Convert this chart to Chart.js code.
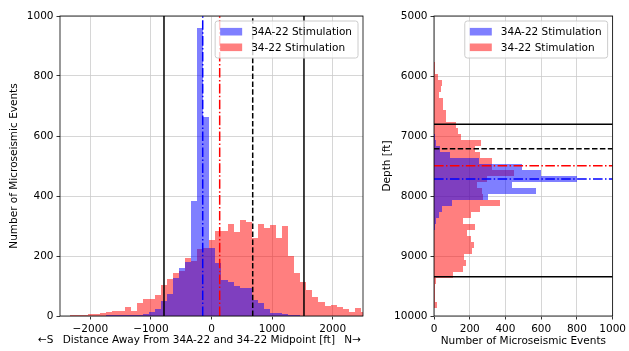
<!DOCTYPE html>
<html>
<head>
<meta charset="utf-8">
<script src="https://cdn.jsdelivr.net/npm/chart.js@4.4.1/dist/chart.umd.min.js"></script>
<style>
  html, body { margin: 0; padding: 0; background: #fff; }
  #wrap { position: relative; width: 629px; height: 351px; }
  .panel { position: absolute; top: 0; }
  #dist-panel { left: 0; }
  #depth-panel { left: 372px; }
</style>
</head>
<body>
<div id="wrap">
  <div class="panel" id="dist-panel"><canvas id="dist-hist" width="372" height="351"></canvas></div>
  <div class="panel" id="depth-panel"><canvas id="depth-hist" width="257" height="351"></canvas></div>
</div>
<script>
// distance histogram (bin centres, ft)
const distBins = [-2485, -2385, -2285, -2185, -2085, -1985, -1885, -1785, -1685, -1585,
  -1485, -1385, -1285, -1185, -1085, -985, -885, -785, -685, -585,
  -485, -385, -285, -185, -85, 15, 115, 215, 315, 415,
  515, 615, 715, 815, 915, 1015, 1115, 1215, 1315, 1415,
  1515, 1615, 1715, 1815, 1915, 2015, 2115, 2215, 2315, 2415, 2515];
const distCounts34A = [0, 0, 0, 0, 0, 1, 1, 1, 2, 2,
  2, 2, 3, 5, 8, 14, 24, 50, 74, 126,
  160, 181, 383, 959, 664, 226, 176, 120, 112, 100,
  95, 95, 53, 44, 24, 10, 9, 7, 3, 2,
  1, 0, 0, 0, 0, 0, 0, 0, 0, 0, 0];
const distCounts34 = [1, 1, 2, 3, 5, 6, 8, 9, 14, 18,
  18, 29, 18, 45, 56, 56, 71, 105, 122, 142,
  150, 194, 184, 224, 228, 253, 285, 285, 307, 281,
  320, 314, 259, 307, 292, 302, 259, 300, 200, 145,
  115, 88, 62, 48, 33, 37, 30, 24, 15, 26, 15];

// depth histogram (bin centres, ft)
const depthBins = [5720, 5820, 5920, 6020, 6120, 6220, 6320, 6420, 6520, 6620,
  6720, 6820, 6920, 7020, 7120, 7220, 7320, 7420, 7520, 7620,
  7720, 7820, 7920, 8020, 8120, 8220, 8320, 8420, 8520, 8620,
  8720, 8820, 8920, 9020, 9120, 9220, 9320, 9420, 9520, 9620,
  9720, 9820, 9920];
const depthCounts34A = [0, 0, 0, 0, 0, 0, 0, 0, 0, 0,
  0, 0, 0, 3, 13, 31, 90, 250, 492, 597,
  800, 437, 570, 305, 98, 45, 26, 13, 4, 2,
  0, 0, 0, 0, 0, 0, 0, 0, 0, 0,
  0, 0, 0];
const depthCounts34 = [0, 5, 8, 22, 44, 37, 30, 50, 50, 68,
  68, 125, 135, 152, 263, 230, 256, 322, 326, 446,
  297, 243, 268, 272, 369, 258, 206, 165, 227, 186,
  205, 222, 213, 170, 179, 162, 105, 10, 8, 6,
  6, 14, 2];

// tick values
const distTicks = [-2000, -1000, 0, 1000, 2000];
const distCountTicks = [0, 200, 400, 600, 800, 1000];
const depthTicks = [5000, 6000, 7000, 8000, 9000, 10000];
const depthCountTicks = [0, 200, 400, 600, 800, 1000];

// reference lines
const distBounds = [-784, 1526];
const distMidline = 680;
const distMean34A = -145;
const distMean34 = 135;
const depthBounds = [6805, 9344];
const depthMidline = 7211;
const depthMean34 = 7495;
const depthMean34A = 7717;

const seriesLabels = ['34A-22 Stimulation', '34-22 Stimulation'];
const distLabelParts = ['\u2190S', 'Distance Away From 34A-22 and 34-22 Midpoint [ft]', 'N\u2192'];

const FONT = { family: '"DejaVu Sans"', size: 10.5 };
const GRID = '#cbcbcb';
const BLUE = 'rgba(0,0,255,0.5)';
const RED = 'rgba(255,0,0,0.5)';
const DASHED = [5.5, 2.4];
const DASHDOT = [9.6, 2.4, 1.5, 2.4];

Chart.defaults.color = '#000';
Chart.defaults.font.family = FONT.family;

const fmtTick = v => (v < 0 ? '\u2212' + Math.abs(v) : String(v));

// snap bar edges to whole pixels so neighbouring translucent bars do not leave seams
const snapBars = {
  id: 'snapBars',
  afterDatasetsUpdate(chart) {
    chart.getSortedVisibleDatasetMetas().forEach(meta => {
      meta.data.forEach(el => {
        if (el.horizontal) {
          const t = Math.round(el.y - el.height / 2);
          const b = Math.round(el.y + el.height / 2);
          el.y = (t + b) / 2;
          el.height = b - t;
          el.x = Math.round(el.x);
          el.base = Math.round(el.base);
        } else {
          const l = Math.round(el.x - el.width / 2);
          const r = Math.round(el.x + el.width / 2);
          el.x = (l + r) / 2;
          el.width = r - l;
          el.y = Math.round(el.y);
          el.base = Math.round(el.base);
        }
      });
    });
  }
};

const refLines = {
  id: 'refLines',
  afterDatasetsDraw(chart, args, opts) {
    const { ctx, chartArea: a } = chart;
    ctx.save();
    ctx.beginPath();
    ctx.rect(a.left, a.top, a.width, a.height);
    ctx.clip();
    opts.lines.forEach(ln => {
      ctx.beginPath();
      ctx.strokeStyle = ln.color;
      ctx.lineWidth = 1.5;
      ctx.setLineDash(ln.dash);
      if (opts.axis === 'x') {
        const p = chart.scales.x.getPixelForValue(ln.value);
        ctx.moveTo(p, a.bottom);
        ctx.lineTo(p, a.top);
      } else {
        const p = chart.scales.y.getPixelForValue(ln.value);
        ctx.moveTo(a.left, p);
        ctx.lineTo(a.right, p);
      }
      ctx.stroke();
    });
    ctx.restore();
  }
};

// x label with the compass arrows pushed out to both ends
const spreadLabel = {
  id: 'spreadLabel',
  afterDraw(chart, args, opts) {
    if (!opts.parts) return;
    const { ctx } = chart;
    ctx.save();
    ctx.font = FONT.size + 'px ' + FONT.family;
    ctx.fillStyle = '#000';
    ctx.textBaseline = 'middle';
    const [a, b, c] = opts.parts;
    const wa = ctx.measureText(a).width;
    const wb = ctx.measureText(b).width;
    const wc = ctx.measureText(c).width;
    const gap = (opts.right - opts.left - wa - wb - wc) / 2;
    ctx.textAlign = 'left';
    ctx.fillText(a, opts.left, opts.y);
    ctx.fillText(b, opts.left + wa + gap, opts.y);
    ctx.fillText(c, opts.left + wa + gap + wb + gap, opts.y);
    ctx.restore();
  }
};

// axes frame + matplotlib-like legend box
const frameLegend = {
  id: 'frameLegend',
  afterDraw(chart) {
    const { ctx, chartArea: a } = chart;
    ctx.save();
    ctx.strokeStyle = '#000';
    ctx.lineWidth = 0.8;
    ctx.strokeRect(a.left, a.top, a.width, a.height);

    ctx.font = FONT.size + 'px ' + FONT.family;
    const sets = chart.data.datasets;
    const textW = Math.max(...sets.map(d => ctx.measureText(d.label).width));
    const w = 5 + 22 + 9 + textW + 6;
    const h = 37;
    const x0 = a.right - 5 - w;
    const y0 = a.top + 5;
    const r = 2.5;
    ctx.beginPath();
    ctx.moveTo(x0 + r, y0);
    ctx.lineTo(x0 + w - r, y0);
    ctx.arcTo(x0 + w, y0, x0 + w, y0 + r, r);
    ctx.lineTo(x0 + w, y0 + h - r);
    ctx.arcTo(x0 + w, y0 + h, x0 + w - r, y0 + h, r);
    ctx.lineTo(x0 + r, y0 + h);
    ctx.arcTo(x0, y0 + h, x0, y0 + h - r, r);
    ctx.lineTo(x0, y0 + r);
    ctx.arcTo(x0, y0, x0 + r, y0, r);
    ctx.closePath();
    ctx.fillStyle = 'rgba(255,255,255,0.8)';
    ctx.fill();
    ctx.strokeStyle = '#cccccc';
    ctx.lineWidth = 1;
    ctx.stroke();

    ctx.textBaseline = 'middle';
    ctx.textAlign = 'left';
    sets.forEach((d, i) => {
      const cy = y0 + 10.7 + i * 15.6;
      ctx.fillStyle = d.backgroundColor;
      ctx.fillRect(x0 + 5, cy - 3.8, 22, 7.6);
      ctx.fillStyle = '#000';
      ctx.fillText(d.label, x0 + 36, cy + 0.5);
    });
    ctx.restore();
  }
};

function axisStyle(extra) {
  return Object.assign({
    type: 'linear',
    offset: false,
    grid: { offset: false, color: GRID, lineWidth: 0.8, tickColor: '#000', tickLength: 3.5, tickWidth: 0.8 },
    border: { display: false },
  }, extra);
}

function tickStyle() {
  return { padding: 3, maxRotation: 0, autoSkip: false, font: FONT, color: '#000', callback: fmtTick };
}

const fixTicks = values => scale => { scale.ticks = values.map(v => ({ value: v })); };

const distPoints = vals => vals.map((v, i) => ({ x: distBins[i], y: v }));
const depthPoints = vals => vals.map((v, i) => ({ y: depthBins[i], x: v }));

new Chart(document.getElementById('dist-hist'), {
  type: 'bar',
  data: {
    datasets: [
      { label: seriesLabels[0], data: distPoints(distCounts34A), backgroundColor: BLUE },
      { label: seriesLabels[1], data: distPoints(distCounts34), backgroundColor: RED },
    ],
  },
  options: {
    responsive: false,
    animation: false,
    layout: { padding: { top: 16, right: 9, left: 0, bottom: 0 } },
    datasets: { bar: { barPercentage: 1, categoryPercentage: 1, grouped: false, borderWidth: 0, inflateAmount: 0 } },
    plugins: {
      legend: { display: false },
      tooltip: { enabled: false },
      spreadLabel: { parts: distLabelParts, left: 38, right: 361, y: 340 },
      refLines: {
        axis: 'x',
        lines: [
          { value: distBounds[0], color: '#000', dash: [] },
          { value: distBounds[1], color: '#000', dash: [] },
          { value: distMidline, color: '#000', dash: DASHED },
          { value: distMean34A, color: '#0000ff', dash: DASHDOT },
          { value: distMean34, color: '#ff0000', dash: DASHDOT },
        ],
      },
    },
    scales: {
      x: axisStyle({
        min: -2500,
        max: 2500,
        ticks: tickStyle(),
        afterBuildTicks: fixTicks(distTicks),
        afterFit: s => { s.height = 35; },
      }),
      y: axisStyle({
        min: 0,
        max: 1000,
        ticks: tickStyle(),
        afterBuildTicks: fixTicks(distCountTicks),
        title: { display: true, text: 'Number of Microseismic Events', font: FONT, color: '#000', padding: { top: 8, bottom: 0 } },
        afterFit: s => { s.width = 60; },
      }),
    },
  },
  plugins: [snapBars, refLines, frameLegend, spreadLabel],
});

new Chart(document.getElementById('depth-hist'), {
  type: 'bar',
  data: {
    datasets: [
      { label: seriesLabels[0], data: depthPoints(depthCounts34A), backgroundColor: BLUE },
      { label: seriesLabels[1], data: depthPoints(depthCounts34), backgroundColor: RED },
    ],
  },
  options: {
    indexAxis: 'y',
    responsive: false,
    animation: false,
    layout: { padding: { top: 16, right: 14, left: 0, bottom: 0 } },
    datasets: { bar: { barPercentage: 1, categoryPercentage: 1, grouped: false, borderWidth: 0, inflateAmount: 0 } },
    plugins: {
      legend: { display: false },
      tooltip: { enabled: false },
      refLines: {
        axis: 'y',
        lines: [
          { value: depthBounds[0], color: '#000', dash: [] },
          { value: depthBounds[1], color: '#000', dash: [] },
          { value: depthMidline, color: '#000', dash: DASHED },
          { value: depthMean34, color: '#ff0000', dash: DASHDOT },
          { value: depthMean34A, color: '#0000ff', dash: DASHDOT },
        ],
      },
    },
    scales: {
      x: axisStyle({
        min: 0,
        max: 1000,
        ticks: tickStyle(),
        afterBuildTicks: fixTicks(depthCountTicks),
        title: { display: true, text: 'Number of Microseismic Events', font: FONT, color: '#000', padding: { top: 0, bottom: 3 } },
        afterFit: s => { s.height = 35; },
      }),
      y: axisStyle({
        min: 5000,
        max: 10000,
        reverse: true,
        ticks: tickStyle(),
        afterBuildTicks: fixTicks(depthTicks),
        title: { display: true, text: 'Depth [ft]', font: FONT, color: '#000', padding: { top: 9, bottom: 0 } },
        afterFit: s => { s.width = 62; },
      }),
    },
  },
  plugins: [snapBars, refLines, frameLegend],
});
</script>
</body>
</html>
